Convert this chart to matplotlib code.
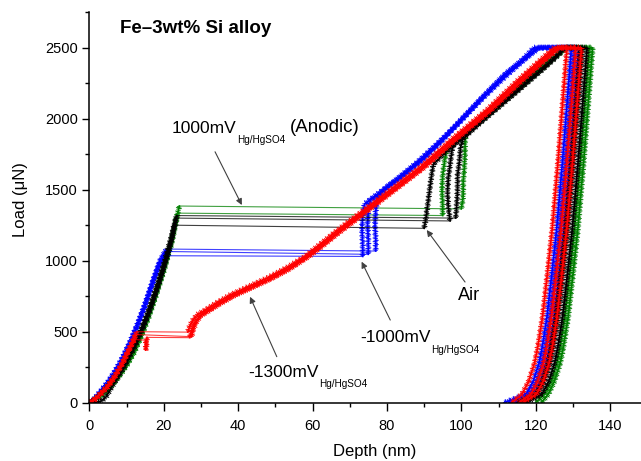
import matplotlib
matplotlib.use('Agg')
import matplotlib.pyplot as plt
import matplotlib.patheffects as pe
from matplotlib.ticker import MultipleLocator

plt.rcParams['font.family'] = ['Liberation Sans', 'DejaVu Sans']
plt.rcParams['mathtext.fontset'] = 'custom'
plt.rcParams['mathtext.rm'] = 'Liberation Sans'

# ---------------- data: (depth nm, load uN) ----------------
# green curves
green1_load = [(0, 0), (2, 25), (4, 65), (6, 120), (8, 185), (10, 260), (12, 350), (14, 470),
               (16, 605), (18, 760), (20, 925), (22, 1110), (24.2, 1385)]
green1_post = [(100, 1365), (100.5, 1450), (100.5, 1550), (100.8, 1650), (101, 1750), (101, 1850),
               (101.5, 1920), (105, 1990), (110, 2100), (115, 2210), (120, 2320), (125, 2430),
               (128.5, 2500), (135.3, 2500), (134.1, 2100), (132.9, 1700), (131.3, 1215),
               (130, 900), (128.7, 600), (127.5, 400), (126.6, 280), (125, 150), (123.4, 60),
               (121.5, 0)]
green2_load = [(0, 0), (2, 26), (4, 68), (6, 125), (8, 190), (10, 265), (12, 358), (14, 478),
               (16, 615), (18, 772), (20, 940), (22, 1125), (23.8, 1335)]
green2_post = [(95, 1318), (95, 1400), (94.8, 1500), (95, 1600), (95.5, 1700), (96, 1780),
               (100, 1870), (105, 1980), (110, 2090), (116, 2225), (122, 2360), (127, 2480),
               (128, 2500), (134.4, 2500), (133.2, 2100), (132, 1700), (130.4, 1215),
               (129.1, 900), (127.8, 600), (126.6, 400), (125.7, 280), (124.1, 150),
               (122.3, 60), (120, 0)]

# black curves (Air)
black1_load = [(0, 0), (2, 35), (4, 85), (6, 150), (8, 220), (10, 300), (12, 395), (14, 510),
               (16, 640), (18, 790), (20, 955), (22, 1135), (23.5, 1318)]
black1_post = [(98.5, 1300), (98.8, 1400), (99, 1500), (99, 1600), (99.5, 1700), (99.8, 1800),
               (100.5, 1860), (105, 1970), (110, 2085), (115, 2195), (120, 2310), (125, 2420),
               (128, 2500), (133.8, 2500), (132.6, 2100), (131.4, 1700), (129.8, 1215),
               (128.5, 900), (127.2, 600), (126, 400), (125.1, 280), (123.5, 150),
               (121.7, 60), (117.5, 0)]
black2_load = [(0, 0), (3, 8), (4.5, 40), (6, 110), (8, 190), (10, 280), (12, 385), (14, 500),
               (16, 630), (18, 780), (20, 945), (22, 1130), (23.3, 1300)]
black2_post = [(97, 1280), (96.5, 1380), (96.3, 1480), (96.5, 1580), (97, 1680), (97.5, 1780),
               (98, 1820), (104, 1950), (110, 2080), (116, 2215), (122, 2350), (127, 2480),
               (127.5, 2500), (132.6, 2500), (131.4, 2100), (130.2, 1700), (128.6, 1215),
               (127.3, 900), (126, 600), (124.8, 400), (123.9, 280), (122.3, 150),
               (120.5, 60), (116, 0)]
black3_load = [(0, 0), (2, 38), (4, 90), (6, 155), (8, 228), (10, 310), (12, 405), (14, 520),
               (16, 655), (18, 810), (20, 975), (22.2, 1180), (22.8, 1250)]
black3_post = [(90, 1228), (90.5, 1300), (91, 1400), (91.5, 1500), (92, 1600), (92.5, 1680),
               (96, 1770), (100, 1860), (105, 1980), (110, 2110), (115, 2230), (120, 2350),
               (124, 2450), (126, 2500), (131.9, 2500), (130.7, 2100), (129.5, 1700),
               (127.9, 1215), (126.6, 900), (125.3, 600), (124.1, 400), (123.2, 280),
               (121.6, 150), (119.8, 60), (115, 0)]

# blue curves (-1000 mV)
blue1_load = [(0, 0), (1.5, 30), (3, 78), (5, 145), (7, 225), (9, 320), (11, 430), (13, 555),
              (15, 695), (17, 850), (19, 1000), (20.8, 1082)]
blue1_post = [(77, 1068), (77, 1150), (76.8, 1250), (77, 1350), (77.5, 1450), (80, 1520),
              (85, 1615), (90, 1720), (95, 1850), (100, 1995), (106, 2160), (112, 2320),
              (117, 2420), (121, 2500), (129.6, 2500), (128.4, 2100), (127.2, 1700),
              (125.6, 1215), (124.3, 900), (123, 600), (121.8, 400), (120.9, 280),
              (119.3, 150), (117.4, 60), (111.5, 0)]
blue2_load = [(0, 0), (1.5, 28), (3, 74), (5, 140), (7, 218), (9, 312), (11, 420), (13, 545),
              (15, 685), (17, 840), (19, 990), (20.6, 1065)]
blue2_post = [(75, 1045), (75, 1150), (74.8, 1250), (75, 1350), (75.3, 1420), (78, 1470),
              (83, 1570), (88, 1680), (94, 1830), (100, 1990), (106, 2150), (112, 2300),
              (118, 2440), (120.5, 2500), (130.5, 2500), (129.3, 2100), (128.1, 1700),
              (126.5, 1215), (125.2, 900), (123.9, 600), (122.7, 400), (121.8, 280),
              (120.2, 150), (118.4, 60), (113, 0)]
blue3_load = [(0, 0), (1.5, 29), (3, 76), (5, 142), (7, 221), (9, 316), (11, 425), (13, 550),
              (15, 690), (17, 845), (19, 985), (20.3, 1035)]
blue3_post = [(73.5, 1030), (73.5, 1120), (73.3, 1220), (73.5, 1320), (74, 1400), (77, 1460),
              (82, 1560), (88, 1690), (93, 1810), (99, 1960), (105, 2130), (111, 2290),
              (117, 2430), (119.5, 2500), (131.6, 2500), (130.4, 2100), (129.2, 1700),
              (127.6, 1215), (126.3, 900), (125, 600), (123.8, 400), (122.9, 280),
              (121.3, 150), (119.5, 60), (114.5, 0)]

# red curves (-1300 mV)
red1_load = [(0, 0), (1.5, 25), (3, 62), (5, 118), (7, 192), (9, 285), (11, 395), (12.3, 470),
             (12.8, 500)]
red1_post = [(26.5, 497), (27, 540), (27.8, 580), (29, 620), (31, 650), (34, 700), (38, 760),
             (43, 820), (48, 880), (53, 950), (58, 1030), (62, 1115), (66, 1200), (71, 1300),
             (76, 1400), (81, 1500), (89, 1660), (97, 1845), (107, 2065), (115, 2265),
             (122, 2430), (125, 2500), (128.4, 2500), (127.2, 2100), (126, 1700),
             (124.4, 1215), (123.1, 900), (121.8, 600), (120.6, 400), (119.7, 280),
             (118.1, 150), (116.3, 60), (113.5, 0)]
red2_load = [(0, 0), (1.5, 23), (3, 60), (5, 115), (7, 188), (9, 280), (11, 388), (12.5, 480)]
red2_post = [(27.5, 465), (28, 520), (28.8, 570), (30, 615), (32, 645), (35, 695), (39, 755),
             (44, 815), (49, 875), (54, 945), (59, 1030), (63, 1110), (67, 1195), (72, 1295),
             (77, 1395), (82, 1495), (90, 1655), (98, 1840), (108, 2060), (116, 2260),
             (123, 2425), (126.5, 2500), (130.8, 2500), (129.6, 2100), (128.4, 1700),
             (126.8, 1215), (125.5, 900), (124.2, 600), (123, 400), (122.1, 280),
             (120.5, 150), (118.7, 60), (115.5, 0)]
red3_load = [(0, 0), (1.5, 24), (3, 61), (5, 116), (7, 190), (9, 282), (11, 390), (12.2, 445)]
red3_mid = [(15.2, 440), (15.3, 400), (15.1, 370), (15.4, 420), (15.5, 460)]
red3_post = [(27, 458), (27.5, 510), (28.3, 560), (29.5, 605), (31.5, 640), (34.5, 690),
             (38.5, 750), (43.5, 810), (48.5, 870), (53.5, 940), (58.5, 1025), (62.5, 1108),
             (66.5, 1192), (71.5, 1292), (76.5, 1392), (81.5, 1492), (89.5, 1652),
             (97.5, 1838), (107.5, 2058), (115.5, 2258), (122.5, 2422), (125.8, 2500),
             (132.3, 2500), (131.1, 2100), (129.9, 1700), (128.3, 1215), (127, 900),
             (125.7, 600), (124.5, 400), (123.6, 280), (122, 150), (120.2, 60), (116.5, 0)]

GREEN, BLACK, BLUE, RED = '#008000', '#000000', '#0000ff', '#ff0000'
curves = [
    (GREEN, [green1_load, green1_post]),
    (GREEN, [green2_load, green2_post]),
    (BLUE, [blue1_load, blue1_post]),
    (BLUE, [blue2_load, blue2_post]),
    (BLUE, [blue3_load, blue3_post]),
    (BLACK, [black1_load, black1_post]),
    (BLACK, [black2_load, black2_post]),
    (BLACK, [black3_load, black3_post]),
    (RED, [red1_load, red1_post]),
    (RED, [red2_load, red2_post]),
    (RED, [red3_load, red3_mid, red3_post]),
]

x_ticks = [0, 20, 40, 60, 80, 100, 120, 140]
y_ticks = [0, 500, 1000, 1500, 2000, 2500]

# ---------------- figure ----------------
W, H = 641, 461
fig = plt.figure(figsize=(W / 100, H / 100), dpi=100)
ax = fig.add_axes([89.3 / W, 58.3 / H, (W - 89.3) / W, 390.5 / H])

hairy = [pe.TickedStroke(spacing=1.2, angle=90, length=1.05, linewidth=0.6),
         pe.TickedStroke(spacing=1.2, angle=-90, length=1.05, linewidth=0.6),
         pe.TickedStroke(spacing=2.7, angle=90, length=0.7, linewidth=0.6),
         pe.TickedStroke(spacing=3.1, angle=-90, length=0.6, linewidth=0.6),
         pe.Normal()]

for color, segs in curves:
    for seg in segs:
        d, p = zip(*seg)
        ax.plot(d, p, color=color, lw=1.2, path_effects=hairy, solid_joinstyle='round')
    for a, b in zip(segs[:-1], segs[1:]):
        ax.plot([a[-1][0], b[0][0]], [a[-1][1], b[0][1]], color=color, lw=0.8, alpha=0.75)

ax.set_xlim(0, 148.3)
ax.set_ylim(0, 2750)
ax.set_xticks(x_ticks)
ax.set_yticks(y_ticks)
ax.xaxis.set_minor_locator(MultipleLocator(10))
ax.yaxis.set_minor_locator(MultipleLocator(250))
for s in ['top', 'right']:
    ax.spines[s].set_visible(False)
for s in ['left', 'bottom']:
    ax.spines[s].set_linewidth(1.1)
ax.tick_params(which='major', direction='out', length=5.4, width=1.0, labelsize=10.5)
ax.tick_params(which='minor', direction='out', length=2.6, width=1.0)
ax.tick_params(axis='x', which='major', pad=6)
ax.tick_params(axis='y', which='major', pad=3)

ax.set_ylabel('Load (μN)', fontsize=12)
ax.yaxis.set_label_coords(-0.112, 0.52)
fig.text(375 / W, 1 - 451 / H, 'Depth (nm)', fontsize=12, ha='center', va='center')

fig.text(120 / W, 1 - 33 / H, 'Fe–3wt% Si alloy', fontsize=13.5, fontweight='bold',
         va='baseline', ha='left')

arrow = dict(arrowstyle='-|>', color='#404040', lw=0.8, mutation_scale=9, shrinkA=0, shrinkB=0)
FS = 12.5
SUB = 'Hg/HgSO4'


def label(x, y, main, after=None):
    t = ax.text(x, y, main, fontsize=FS, va='baseline', ha='left')
    s = ax.annotate(SUB, xy=(1.0, 0.0), xycoords=t, xytext=(0.5, -3), textcoords='offset points',
                    fontsize=7.2, va='center', ha='left')
    if after:
        ax.annotate(after, xy=(1.0, 0.0), xycoords=(s, t), xytext=(3, 0),
                    textcoords='offset points', fontsize=13.5, va='bottom', ha='left')


label(22.2, 1898, '1000mV', '(Anodic)')
ax.annotate('', xy=(41.0, 1392), xytext=(33.8, 1767), arrowprops=arrow)

ax.text(99.1, 722, 'Air', fontsize=13, va='baseline')
ax.annotate('', xy=(90.7, 1216), xytext=(101.0, 850), arrowprops=arrow)

label(72.8, 424, '-1000mV')
ax.annotate('', xy=(73.2, 993), xytext=(80.9, 582), arrowprops=arrow)

label(42.7, 180, '-1300mV')
ax.annotate('', xy=(43.2, 746), xytext=(50.4, 324), arrowprops=arrow)

fig.savefig('out.png', dpi=100)
